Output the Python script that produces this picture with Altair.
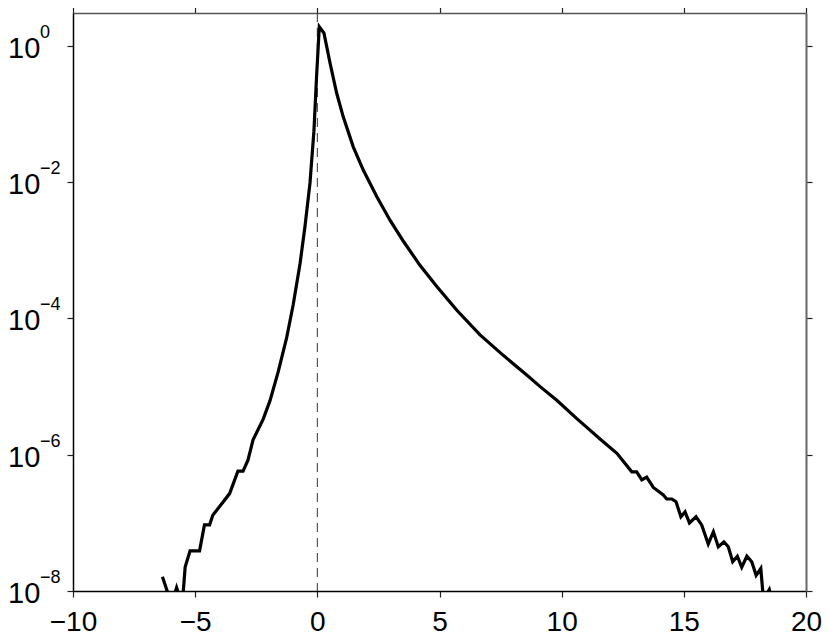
import altair as alt
import pandas as pd

# Curve (x, density)
x_vals = [-6.34, -6.07, -5.91, -5.76, -5.62, -5.49, -5.41, -5.21, -4.82, -4.62,
          -4.41, -4.28, -4.00, -3.59, -3.25, -3.04, -2.84, -2.63, -2.22, -1.94,
          -1.60, -1.26, -0.99, -0.71, -0.51, -0.30, -0.14, -0.03, 0.08,
          0.27, 0.52, 0.79, 1.06, 1.47, 1.88, 2.43, 2.98, 3.53, 4.20,
          4.89, 5.71, 6.66, 7.61, 8.57, 9.12, 9.80, 10.62, 11.10, 11.57, 12.26,
          12.53, 12.87, 13.07, 13.28, 13.48, 13.75, 14.16, 14.30, 14.51, 14.68,
          14.88, 15.05, 15.23, 15.50, 15.73, 16.00, 16.21, 16.41, 16.64, 16.82,
          17.00, 17.19, 17.37, 17.58, 17.78, 17.96, 18.15, 18.26, 18.50, 18.61]
y_vals = [1.62e-8, 8.3e-9, 7.4e-9, 1.12e-8, 7.8e-9, 9.5e-9, 2.24e-8, 3.89e-8, 3.89e-8, 9.33e-8,
          9.33e-8, 1.29e-7, 1.74e-7, 2.69e-7, 5.75e-7, 5.75e-7, 8.32e-7, 1.66e-6, 3.31e-6, 6.17e-6,
          1.66e-5, 5.13e-5, 1.58e-4, 6.31e-4, 2.19e-3, 9.77e-3, 0.0562, 0.363, 1.92,
          1.55, 0.562, 0.204, 0.0912, 0.0331, 0.0151, 6.17e-3, 2.75e-3, 1.35e-3, 6.03e-4,
          2.95e-4, 1.32e-4, 5.75e-5, 2.88e-5, 1.48e-5, 1.0e-5, 6.31e-6, 3.39e-6, 2.40e-6, 1.70e-6, 1.05e-6,
          7.94e-7, 5.62e-7, 5.62e-7, 4.27e-7, 4.68e-7, 3.31e-7, 2.57e-7, 2.24e-7, 2.24e-7, 2.04e-7,
          1.23e-7, 1.45e-7, 1.0e-7, 1.23e-7, 9.33e-8, 4.90e-8, 7.41e-8, 4.47e-8, 5.25e-8, 4.47e-8,
          2.69e-8, 3.24e-8, 2.24e-8, 3.24e-8, 2.69e-8, 1.70e-8, 2.14e-8, 7.4e-9, 1.05e-8, 7.4e-9]

x_ticks = [-10, -5, 0, 5, 10, 15, 20]
y_ticks = [1, 1e-2, 1e-4, 1e-6, 1e-8]
y_base = ["10", "10", "10", "10", "10"]
y_exp = ["0", "\u22122", "\u22124", "\u22126", "\u22128"]
ref_x = [0]

df = pd.DataFrame({"x": x_vals, "y": y_vals})
lab = pd.DataFrame({"v": y_ticks, "b": y_base, "e": y_exp})
ref = pd.DataFrame({"x0": ref_x})

FONT = "Liberation Sans"
xscale = alt.Scale(domain=[-10, 20], nice=False, zero=False)
yscale = alt.Scale(type="log", domain=[1e-8, 3.05], nice=False)

common_axis = dict(grid=False, tickSize=6, tickWidth=1.2, tickColor="#222",
                   domainWidth=1.5, labelFont=FONT, labelFontSize=28,
                   labelColor="black", title=None)

line = alt.Chart(df).mark_line(color="black", strokeWidth=3.2, clip=True).encode(
    x=alt.X("x:Q", scale=xscale,
            axis=alt.Axis(orient="bottom", values=x_ticks, domainColor="black",
                          labelPadding=11, labelFlush=False, labelOverlap=False,
                          **common_axis)),
    y=alt.Y("y:Q", scale=yscale,
            axis=alt.Axis(orient="left", values=y_ticks, labels=False,
                          domainColor="black", **common_axis)),
)

frame = alt.Chart(df).mark_point(opacity=0).encode(
    x=alt.X("x:Q", scale=xscale,
            axis=alt.Axis(orient="top", values=x_ticks, labels=False,
                          domainColor="#555", **common_axis)),
    y=alt.Y("y:Q", scale=yscale,
            axis=alt.Axis(orient="right", values=y_ticks, labels=False,
                          domainColor="#666", domainWidth=2, **{k: v for k, v in common_axis.items() if k != "domainWidth"})),
)

rule = alt.Chart(ref).mark_rule(color="#333", strokeWidth=1, strokeDash=[9, 6]).encode(
    x=alt.X("x0:Q", scale=xscale, axis=None),
)

base_txt = alt.Chart(lab).mark_text(align="left", baseline="alphabetic", dy=12,
                                    fontSize=29, font=FONT, color="black").encode(
    x=alt.value(-65),
    y=alt.Y("v:Q", scale=yscale, axis=None),
    text="b:N",
)
exp_txt = alt.Chart(lab).mark_text(align="left", baseline="alphabetic", dy=-8,
                                   fontSize=18, font=FONT, color="black").encode(
    x=alt.value(-33),
    y=alt.Y("v:Q", scale=yscale, axis=None),
    text="e:N",
)

chart = alt.layer(rule, line, frame, base_txt, exp_txt).resolve_axis(
    x="independent", y="independent"
).properties(
    width=733, height=578,
    autosize=alt.AutoSizeParams(type="none"),
    padding={"left": 65, "top": 5, "right": 16, "bottom": 44},
).configure_view(stroke=None)

chart.save("out.html", embed_options={"renderer": "svg", "actions": False})
